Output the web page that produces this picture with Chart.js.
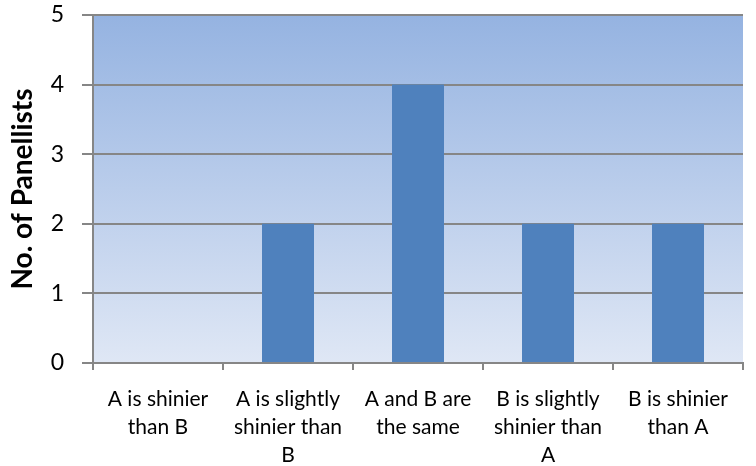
<!DOCTYPE html>
<html><head><meta charset="utf-8">
<script src="https://cdn.jsdelivr.net/npm/chart.js@4"></script>
<style>html,body{margin:0;padding:0;background:#fff}#wrap{width:756px;height:466px}</style>
</head><body><div id="wrap"><canvas id="c"></canvas></div>
<script>
const categories = [
  ["A is shinier","than B"],
  ["A is slightly","shinier than","B"],
  ["A and B are","the same"],
  ["B is slightly","shinier than","A"],
  ["B is shinier","than A"]
];
const panellists = [0, 2, 4, 2, 2];
const yTitle = "No. of Panellists";

const bgPlugin = {
  id: 'bg',
  beforeDraw(chart) {
    const {ctx, chartArea: a} = chart;
    const g = ctx.createLinearGradient(0, a.top, 0, a.bottom);
    g.addColorStop(0, '#95b3e1');
    g.addColorStop(1, '#dfe7f5');
    ctx.save();
    ctx.fillStyle = g;
    ctx.fillRect(a.left, a.top, a.right - a.left, a.bottom - a.top);
    ctx.restore();
  }
};

new Chart(document.getElementById('c'), {
  type: 'bar',
  data: { labels: categories, datasets: [{ data: panellists, backgroundColor: '#4f81bd', categoryPercentage: 1, barPercentage: 0.4 }] },
  options: {
    responsive: true, maintainAspectRatio: false, animation: false,
    layout: { padding: { top: 15, right: 13, left: 0, bottom: 0 } },
    plugins: { legend: { display: false }, tooltip: { enabled: false } },
    scales: {
      x: {
        grid: { drawOnChartArea: false, drawTicks: true, tickLength: 7, color: '#868686', lineWidth: 2, offset: true },
        border: { color: '#868686', width: 2 },
        ticks: { color: '#000', font: { family: 'Lato', size: 21, lineHeight: 1.33 }, padding: 15, maxRotation: 0, autoSkip: false },
        afterFit(s) { s.height = 103; s.paddingLeft = 0; s.paddingRight = 0; }
      },
      y: {
        min: 0, max: 5,
        grid: { color: '#868686', lineWidth: 2, tickLength: 11 },
        border: { color: '#868686', width: 2 },
        ticks: { stepSize: 1, color: '#000', font: { family: 'Lato', size: 23 }, padding: 18 },
        title: { display: true, text: yTitle, color: '#000', font: { family: 'Lato', size: 28, weight: 'bold' }, padding: { top: 6, bottom: 2 } },
        afterFit(s) { s.width = 93; s.paddingTop = 0; s.paddingBottom = 0; }
      }
    }
  },
  plugins: [bgPlugin]
});
</script></body></html>
